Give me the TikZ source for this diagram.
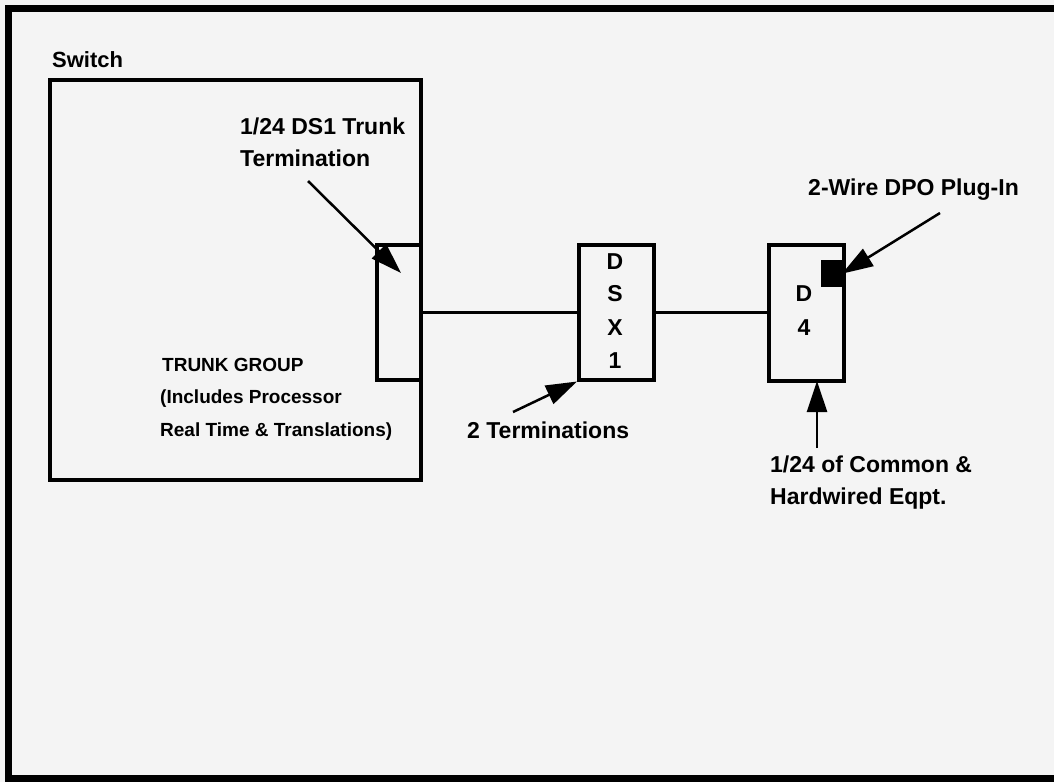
\documentclass[tikz,border=0pt]{standalone}
\usepackage{fontspec}
\setmainfont{Liberation Sans}
\usetikzlibrary{arrows.meta}
\definecolor{paper}{HTML}{F4F4F4}
\tikzset{
  lbl/.style={anchor=base west, inner sep=0pt, font=\fontsize{23}{30}\selectfont\bfseries},
  small/.style={anchor=base west, inner sep=0pt, font=\fontsize{19}{24}\selectfont\bfseries},
  letter/.style={anchor=center, inner sep=0pt, font=\fontsize{23}{30}\selectfont\bfseries},
  box/.style={draw, line width=3.5pt, inner sep=0pt},
  wire/.style={line width=3pt},
  pointer/.style={line width=2.5pt, -{Triangle[length=31pt,width=20pt]}},
}
\begin{document}
\begin{tikzpicture}[x=1pt,y=-1pt]
\fill[paper] (0,0) rectangle (1054,782);
\useasboundingbox (0,0) rectangle (1054,782);
% outer frame (open on the right)
\draw[line width=7pt] (1054,8) -- (8,8) -- (8,778) -- (1054,778);

% switch
\node[lbl, font=\fontsize{22}{28}\selectfont\bfseries] (switchlbl) at (52,67) {Switch};
\node[box, minimum width=371pt, minimum height=400pt, anchor=north west] (switch) at (48,78) {};
\node[box, minimum width=44pt, minimum height=135pt, anchor=north west] (trunk) at (375,243) {};

% DSX1 and D4
\node[box, minimum width=75pt, minimum height=135pt, anchor=north west] (dsx) at (577,243) {};
\node[box, minimum width=75pt, minimum height=136pt, anchor=north west] (dfour) at (767,243) {};
\node[fill=black, minimum width=21pt, minimum height=27pt, inner sep=0pt, anchor=north east] (plug) at (842,260) {};

\node[letter] (dsxD) at (615,262) {D};
\node[letter] (dsxS) at (615,294) {S};
\node[letter] (dsxX) at (615,328) {X};
\node[letter] (dsxOne) at (615,361) {1};
\node[letter] (dfD) at (804,294) {D};
\node[letter] (dfFour) at (804,328) {4};

% wires
\draw[wire] (trunk.east |- 0,312) -- (dsx.west |- 0,312);
\draw[wire] (dsx.east |- 0,312) -- (dfour.west |- 0,312);

% labels
\node[lbl] (trunklblA) at (240,134) {1/24 DS1 Trunk};
\node[lbl] (trunklblB) at (240,166) {Termination};
\node[lbl] (plugl) at (808,195) {2-Wire DPO Plug-In};
\node[lbl] (twot) at (467,438) {2 Terminations};
\node[lbl] (commonA) at (770,472) {1/24 of Common \&};
\node[lbl] (commonB) at (770,504) {Hardwired Eqpt.};
\node[small] (tgA) at (162,371) {TRUNK GROUP};
\node[small] (tgB) at (160,403) {(Includes Processor};
\node[small] (tgC) at (160,436) {Real Time \& Translations)};

% pointers
\coordinate (trunkTail) at (308,181);
\coordinate (trunkTip) at (401,273);
\draw[pointer] (trunkTail) -- (trunkTip);
\coordinate (twoTail) at (513,412);
\draw[pointer] (twoTail) -- (dsx.south west);
\coordinate (plugTail) at (940,213);
\draw[pointer] (plugTail) -- (plug.east);
\coordinate (comTail) at (817,448);
\coordinate (comTip) at (817,381);
\draw[pointer] (comTail) -- (comTip);
\end{tikzpicture}
\end{document}
